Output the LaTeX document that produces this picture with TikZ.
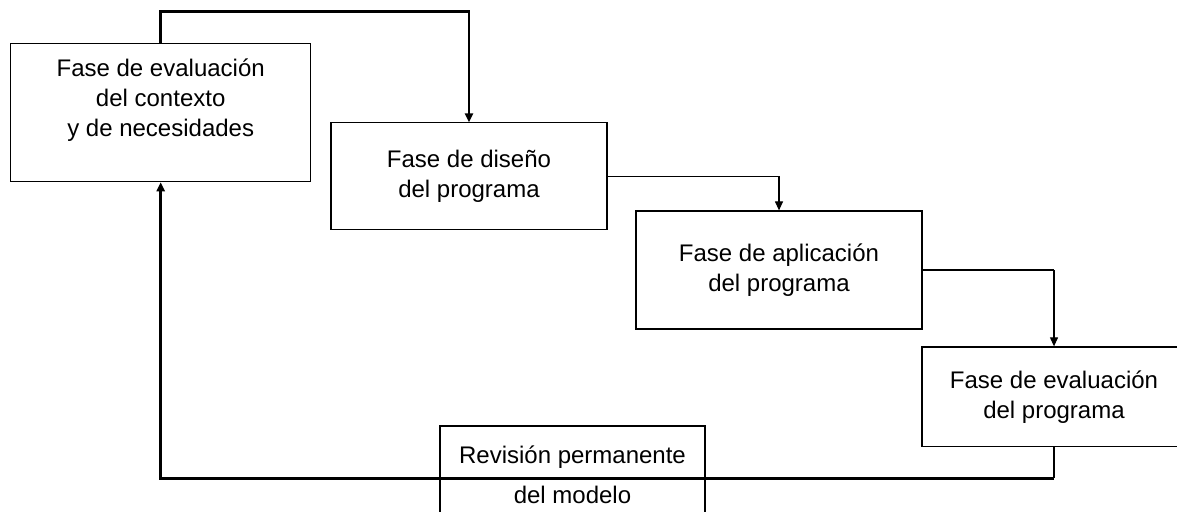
\documentclass[tikz,border=0pt]{standalone}
\usepackage{fontspec}
\setmainfont{Liberation Sans}
\usetikzlibrary{arrows.meta}

\tikzset{
  phase/.style={draw, line width=0.6pt, inner sep=0pt, align=center,
    font=\fontsize{12}{15}\selectfont},
  link/.style={line width=0.6pt, -{Triangle[length=4.5pt, width=4pt]}},
  heavy/.style={line width=1.3pt}
}

\begin{document}
\begin{tikzpicture}[x=0.5pt, y=-0.5pt]
    % page
    \useasboundingbox (0, 0) rectangle (1177, 512);

    % phases
    \node[phase, minimum width=150pt, minimum height=69pt] (context) at (160.7, 112.7)
      {Fase de evaluación\\del contexto\\y de necesidades\\\mbox{}};
    \node[phase, minimum width=138pt, minimum height=53.5pt] (design) at (469, 176.4)
      {Fase de diseño\\del programa};
    \node[phase, minimum width=143pt, minimum height=59pt] (apply) at (779, 270)
      {Fase de aplicación\\del programa};
    \node[phase, minimum width=132pt, minimum height=49.75pt] (evaluate) at (1054, 396.7)
      {Fase de evaluación\\del programa};
    \node[phase, minimum width=132.5pt, minimum height=49pt,
      font=\fontsize{12}{20}\selectfont] (review) at (572.5, 475)
      {Revisión permanente\\del modelo};

    % forward links
    \draw[link, heavy] (context.north) -- ++(0, -31.7) -| (design.north);
    \draw[link] (design.east) -| (apply.north);
    \coordinate (turn) at (apply.east -| evaluate.north);
    \draw[heavy] (apply.east) -- (turn);
    \draw[link] (turn) -- (evaluate.north);

    % feedback loop
    \draw[line width=0.6pt] (evaluate.south) -- ++(0, 31.2) coordinate (back);
    \draw[link, heavy] (back) -| (context.south);
\end{tikzpicture}
\end{document}
